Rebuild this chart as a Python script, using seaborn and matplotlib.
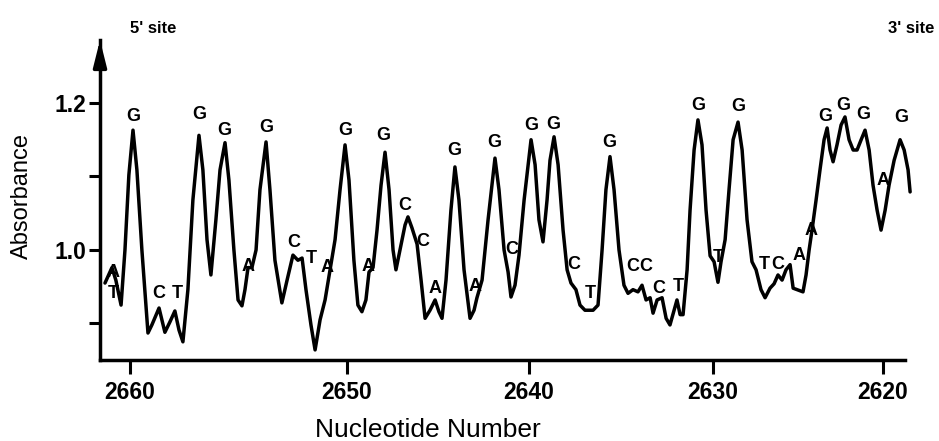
import numpy as np
import pandas as pd
import seaborn as sns
import matplotlib
matplotlib.use("Agg")
import matplotlib.pyplot as plt

# absorbance trace (nucleotide number, absorbance)
nucleotide = [
    2661.15, 2660.83, 2660.65, 2660.41, 2660.23, 2660.05, 2659.86, 2659.68, 2659.45, 2659.17,
    2658.99, 2658.66, 2658.39, 2658.16, 2657.93, 2657.74, 2657.56, 2657.33, 2657.10, 2656.82,
    2656.64, 2656.45, 2656.27, 2656.04, 2655.85, 2655.62, 2655.44, 2655.21, 2655.02, 2654.84,
    2654.70, 2654.56, 2654.38, 2654.19, 2654.01, 2653.73, 2653.55, 2653.32, 2653.00, 2652.76,
    2652.49, 2652.26, 2652.07, 2651.89, 2651.66, 2651.47, 2651.24, 2651.01, 2650.78, 2650.55,
    2650.32, 2650.09, 2649.89, 2649.62, 2649.40, 2649.18, 2648.96, 2648.79, 2648.57, 2648.35,
    2648.13, 2647.91, 2647.69, 2647.47, 2647.31, 2647.09, 2646.81, 2646.65, 2646.43, 2646.15,
    2645.93, 2645.71, 2645.44, 2645.16, 2644.95, 2644.78, 2644.56, 2644.29, 2644.07, 2643.85,
    2643.57, 2643.24, 2643.02, 2642.86, 2642.58, 2642.25, 2641.87, 2641.65, 2641.37, 2641.15,
    2640.99, 2640.77, 2640.55, 2640.27, 2639.89, 2639.67, 2639.46, 2639.24, 2639.02, 2638.86,
    2638.64, 2638.42, 2638.15, 2637.93, 2637.72, 2637.45, 2637.23, 2636.96, 2636.52, 2636.25,
    2636.03, 2635.82, 2635.60, 2635.38, 2635.11, 2634.84, 2634.62, 2634.35, 2634.08, 2633.86,
    2633.64, 2633.42, 2633.26, 2633.04, 2632.77, 2632.55, 2632.34, 2632.12, 2631.96, 2631.79,
    2631.63, 2631.41, 2631.25, 2631.03, 2630.82, 2630.60, 2630.38, 2630.16, 2629.94, 2629.71,
    2629.53, 2629.29, 2629.06, 2628.82, 2628.53, 2628.29, 2628.00, 2627.71, 2627.47, 2627.18,
    2626.94, 2626.65, 2626.41, 2626.18, 2625.94, 2625.71, 2625.47, 2625.29, 2625.06, 2624.71,
    2624.53, 2624.35, 2624.18, 2623.94, 2623.71, 2623.47, 2623.29, 2623.12, 2622.94, 2622.71,
    2622.47, 2622.24, 2622.00, 2621.76, 2621.53, 2621.29, 2621.06, 2620.82, 2620.59, 2620.35,
    2620.12, 2619.88, 2619.65, 2619.35, 2619.00, 2618.76, 2618.53, 2618.41,
]
absorbance = [
    0.955, 0.976, 0.959, 0.925, 1.000, 1.102, 1.163, 1.109, 1.000, 0.887,
    0.898, 0.921, 0.888, 0.902, 0.917, 0.891, 0.875, 0.946, 1.068, 1.156,
    1.109, 1.014, 0.966, 1.041, 1.109, 1.146, 1.095, 1.000, 0.932, 0.924,
    0.946, 0.976, 0.976, 1.000, 1.082, 1.147, 1.082, 0.986, 0.928, 0.959,
    0.993, 0.986, 0.989, 0.946, 0.898, 0.864, 0.905, 0.932, 0.973, 1.014,
    1.082, 1.143, 1.095, 0.986, 0.925, 0.916, 0.932, 0.970, 0.976, 1.027,
    1.088, 1.133, 1.082, 1.000, 0.973, 1.000, 1.034, 1.045, 1.030, 1.008,
    0.959, 0.907, 0.918, 0.932, 0.916, 0.907, 0.959, 1.054, 1.113, 1.068,
    0.973, 0.907, 0.918, 0.935, 0.959, 1.041, 1.125, 1.082, 1.000, 0.970,
    0.936, 0.952, 0.993, 1.068, 1.150, 1.116, 1.041, 1.011, 1.068, 1.122,
    1.154, 1.116, 1.027, 0.973, 0.955, 0.946, 0.925, 0.918, 0.918, 0.925,
    1.000, 1.082, 1.127, 1.082, 1.000, 0.952, 0.941, 0.946, 0.943, 0.952,
    0.932, 0.935, 0.914, 0.932, 0.935, 0.907, 0.898, 0.918, 0.932, 0.912,
    0.912, 0.973, 1.054, 1.136, 1.177, 1.143, 1.054, 0.992, 0.984, 0.956,
    0.984, 1.014, 1.082, 1.150, 1.174, 1.136, 1.041, 0.984, 0.973, 0.946,
    0.935, 0.948, 0.954, 0.966, 0.959, 0.973, 0.980, 0.948, 0.946, 0.943,
    0.966, 1.000, 1.027, 1.068, 1.109, 1.150, 1.166, 1.136, 1.120, 1.143,
    1.170, 1.181, 1.150, 1.136, 1.136, 1.150, 1.163, 1.136, 1.088, 1.054,
    1.027, 1.054, 1.088, 1.122, 1.150, 1.136, 1.109, 1.079,
]

# base calls written on the trace
base_letter = list("ATGCTGGAGCTAGAGCCAGAGCGGCTGCCCTGTGTCAAGGGAG")
base_nt = [
    2660.78, 2660.78, 2659.86, 2658.66, 2657.83, 2656.82, 2655.67, 2654.56, 2653.73, 2652.44,
    2651.66, 2650.92, 2650.09, 2648.85, 2648.02, 2646.81, 2645.82, 2645.16, 2644.12, 2642.97,
    2641.92, 2640.93, 2639.89, 2638.70, 2637.55, 2636.68, 2635.65, 2634.35, 2633.64, 2632.93,
    2631.90, 2630.82, 2629.71, 2628.53, 2627.00, 2626.18, 2624.94, 2624.24, 2623.41, 2622.35,
    2621.18, 2620.00, 2618.94,
]
base_abs = [
    0.970, 0.941, 1.181, 0.941, 0.941, 1.184, 1.163, 0.977, 1.166, 1.010,
    0.989, 0.976, 1.163, 0.977, 1.156, 1.061, 1.011, 0.948, 1.136, 0.950,
    1.146, 1.000, 1.170, 1.171, 0.980, 0.941, 1.146, 0.977, 0.977, 0.948,
    0.950, 1.197, 0.990, 1.195, 0.980, 0.980, 0.993, 1.027, 1.181, 1.197,
    1.184, 1.095, 1.180,
]

df = pd.DataFrame({"nt": nucleotide, "abs": absorbance})

sns.set_style("ticks")
plt.rcParams["font.family"] = ["Liberation Sans", "DejaVu Sans"]
for key in ["text.color", "axes.labelcolor", "xtick.color", "ytick.color", "axes.edgecolor"]:
    plt.rcParams[key] = "black"

fig = plt.figure(figsize=(9.39, 4.41), dpi=100)
ax = fig.add_axes([0.1065, 0.1837, 0.8573, 0.7256])

sns.lineplot(data=df, x="nt", y="abs", ax=ax, color="black", lw=2.5,
             sort=False, estimator=None)
ax.lines[0].set_clip_on(False)

for s, xv, yv in zip(base_letter, base_nt, base_abs):
    ax.text(xv, yv, s, ha="center", va="center", fontsize=13,
            fontweight="bold", color="black")

# the scanned x axis is not evenly spaced between the printed ticks
knot_nt = np.array([2600, 2620, 2630, 2640, 2650, 2660, 2700])
knot_pos = np.array([1223, 883, 713, 529, 347, 130, -738])
ax.set_xscale("function", functions=(lambda v: np.interp(v, knot_nt, -knot_pos),
                                     lambda v: np.interp(v, -knot_pos, knot_nt)))
ax.set_xlim(2661.38, 2618.71)
ax.set_ylim(0.8503, 1.2857)

ax.set_xticks([2660, 2650, 2640, 2630, 2620])
ax.set_xticklabels(["2660", "2650", "2640", "2630", "2620"])
ax.xaxis.set_minor_locator(plt.NullLocator())
ax.set_yticks([0.9, 1.0, 1.1, 1.2])
ax.set_yticklabels(["", "1.0", "", "1.2"])
ax.tick_params(axis="x", length=10, width=2.2, pad=5, labelsize=16.5)
ax.tick_params(axis="y", length=8, width=2.2, pad=2, labelsize=16.5)
for lab in ax.get_xticklabels() + ax.get_yticklabels():
    lab.set_fontweight("bold")

sns.despine(ax=ax)
for side in ["left", "bottom"]:
    ax.spines[side].set_linewidth(2.5)

ax.annotate("", xy=(0, 1.0), xycoords="axes fraction", xytext=(0, 0.92),
            arrowprops=dict(arrowstyle="-|>,head_length=0.8,head_width=0.2",
                            color="black", lw=2.5, mutation_scale=20,
                            shrinkA=0, shrinkB=0))

ax.set_xlabel("")
ax.set_ylabel("")
fig.text(0.0234, 0.5556, "Absorbance", rotation=90, ha="center", va="center",
         fontsize=17, fontweight="medium")
fig.text(0.4558, 0.0249, "Nucleotide Number", ha="center", va="center",
         fontsize=19, fontweight="medium")
fig.text(0.1629, 0.9365, "5' site", ha="center", va="center", fontsize=12, fontweight="bold")
fig.text(0.9702, 0.9365, "3' site", ha="center", va="center", fontsize=12, fontweight="bold")

fig.savefig("out.png", dpi=100)
